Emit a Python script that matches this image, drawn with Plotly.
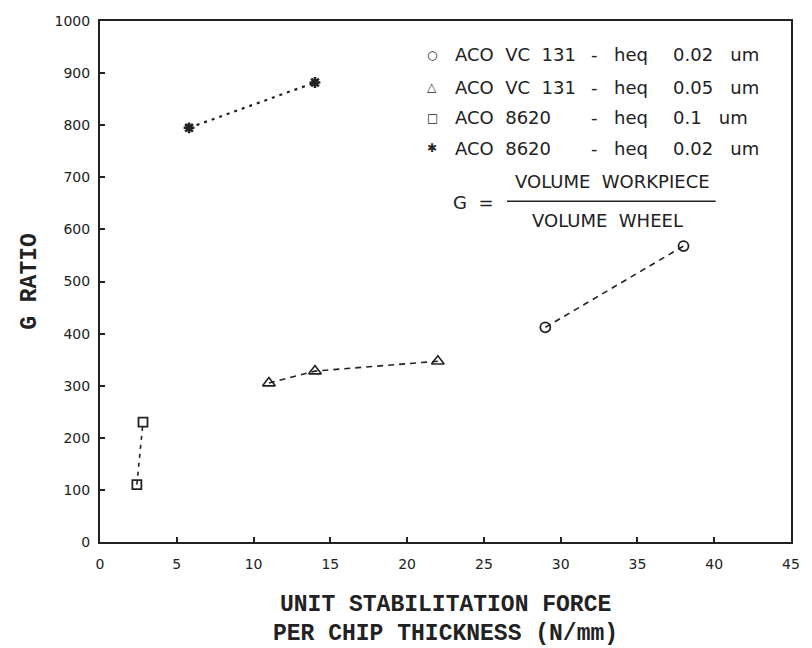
import plotly.graph_objects as go

# ---- data ----
circ_x = [29.0, 38.0]
circ_y = [412, 568]
tri_x = [11.0, 14.0, 22.0]
tri_y = [305, 328, 347]
sq_x = [2.4, 2.8]
sq_y = [110, 230]
star_x = [5.8, 14.0]
star_y = [795, 882]

x_ticks = [0, 5, 10, 15, 20, 25, 30, 35, 40, 45]
y_ticks = [0, 100, 200, 300, 400, 500, 600, 700, 800, 900, 1000]

legend_symbols = ["\u25cb", "\u25b3", "\u25a1", "\u2731"]
legend_names = ["ACO VC 131", "ACO VC 131", "ACO 8620", "ACO 8620"]
legend_heq = ["0.02", "0.05", "0.1", "0.02"]

x_title_lines = ["UNIT STABILITATION FORCE", "PER CHIP THICKNESS (N/mm)"]

INK = "#222222"
TICKFONT = dict(family="DejaVu Sans", size=14, color=INK)
TEXTFONT = dict(family="DejaVu Sans", size=18, color=INK)
TITLEFONT = dict(family="Liberation Mono", size=23, color=INK, weight="bold")

fig = go.Figure()

fig.add_trace(go.Scatter(
    x=circ_x, y=circ_y, mode="lines+markers", showlegend=False,
    line=dict(color=INK, width=1.6, dash="6px,5px"),
    marker=dict(symbol="circle-open", size=10, color=INK, line=dict(width=1.8)),
))
fig.add_trace(go.Scatter(
    x=tri_x, y=tri_y, mode="lines+markers", showlegend=False,
    line=dict(color=INK, width=1.6, dash="6px,5px"),
    marker=dict(symbol="triangle-up-open", size=11, color=INK, line=dict(width=1.6)),
))
fig.add_trace(go.Scatter(
    x=sq_x, y=sq_y, mode="lines+markers", showlegend=False,
    line=dict(color=INK, width=1.6, dash="4px,5px"),
    marker=dict(symbol="square-open", size=9, color=INK, line=dict(width=1.8)),
))
fig.add_trace(go.Scatter(
    x=star_x, y=star_y, mode="lines+markers", showlegend=False,
    line=dict(color=INK, width=2.2, dash="3px,5px"),
    marker=dict(symbol="asterisk-open", size=9, color=INK, line=dict(width=2.6, color=INK)),
))

# ---- legend text block (annotations in plot-area coordinates) ----
row_y = [0.935, 0.873, 0.814, 0.756]
annotations = []
for i in range(4):
    annotations.append(dict(x=0.481, y=row_y[i], xref="paper", yref="paper",
                            text=legend_symbols[i], showarrow=False, xanchor="center",
                            yanchor="middle", font=dict(family="DejaVu Sans", size=12, color=INK)))
    annotations.append(dict(x=0.511, y=row_y[i], xref="paper", yref="paper",
                            text=legend_names[i].replace(" ", "\u00a0 "), showarrow=False,
                            xanchor="left", yanchor="middle", font=TEXTFONT))
    annotations.append(dict(x=0.708, y=row_y[i], xref="paper", yref="paper",
                            text="-", showarrow=False,
                            xanchor="left", yanchor="middle", font=TEXTFONT))
    annotations.append(dict(x=0.741, y=row_y[i], xref="paper", yref="paper",
                            text="heq", showarrow=False,
                            xanchor="left", yanchor="middle", font=TEXTFONT))
    annotations.append(dict(x=0.826, y=row_y[i], xref="paper", yref="paper",
                            text=legend_heq[i] + "\u00a0\u00a0 um", showarrow=False,
                            xanchor="left", yanchor="middle", font=TEXTFONT))

annotations.append(dict(x=0.508, y=0.651, xref="paper", yref="paper", text="G\u00a0 =",
                        showarrow=False, xanchor="left", yanchor="middle", font=TEXTFONT))
annotations.append(dict(x=0.742, y=0.691, xref="paper", yref="paper",
                        text="VOLUME\u00a0 WORKPIECE", showarrow=False,
                        xanchor="center", yanchor="middle", font=TEXTFONT))
annotations.append(dict(x=0.734, y=0.618, xref="paper", yref="paper",
                        text="VOLUME\u00a0 WHEEL", showarrow=False,
                        xanchor="center", yanchor="middle", font=TEXTFONT))

# x-axis title, two tightly spaced lines
annotations.append(dict(x=0.5, y=-0.121, xref="paper", yref="paper", text=x_title_lines[0],
                        showarrow=False, xanchor="center", yanchor="middle", font=TITLEFONT))
annotations.append(dict(x=0.5, y=-0.177, xref="paper", yref="paper", text=x_title_lines[1],
                        showarrow=False, xanchor="center", yanchor="middle", font=TITLEFONT))

fig.add_shape(type="line", xref="paper", yref="paper", x0=0.589, x1=0.891,
              y0=0.654, y1=0.654, line=dict(color=INK, width=1.6))

fig.update_layout(
    width=812, height=648,
    margin=dict(l=100, r=13, t=21, b=106),
    paper_bgcolor="white", plot_bgcolor="white",
    annotations=annotations,
    showlegend=False,
)

fig.update_xaxes(
    range=[0, 45], tickvals=x_ticks, ticktext=[str(v) for v in x_ticks],
    showgrid=False, zeroline=False,
    showline=True, linecolor=INK, linewidth=2, mirror=True,
    ticks="inside", ticklen=5, tickwidth=1.5, tickcolor=INK,
    tickfont=TICKFONT, ticklabelstandoff=8,
)
fig.update_yaxes(
    range=[0, 1000], tickvals=y_ticks, ticktext=[str(v) for v in y_ticks],
    showgrid=False, zeroline=False,
    showline=True, linecolor=INK, linewidth=2, mirror=True,
    ticks="inside", ticklen=5, tickwidth=1.5, tickcolor=INK,
    tickfont=TICKFONT, ticklabelstandoff=5,
    title=dict(text="G RATIO", font=TITLEFONT, standoff=12),
)

fig.write_html("out.html")
